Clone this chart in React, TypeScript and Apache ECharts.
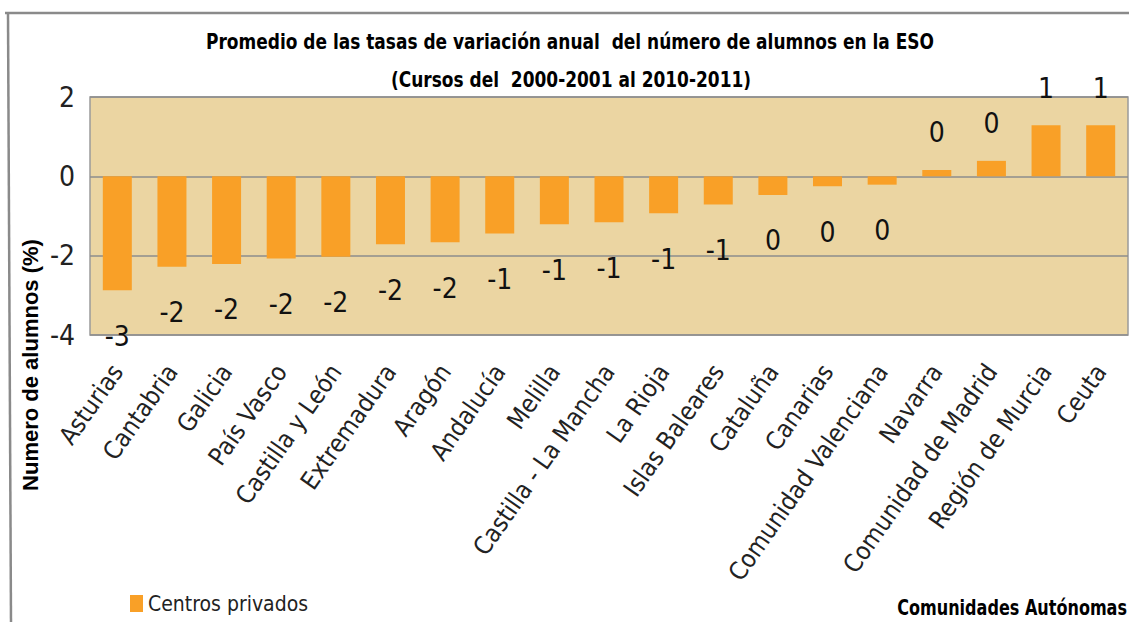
import React, { useEffect, useRef } from "react";
import * as echarts from "echarts";

const categories = [
  "Asturias",
  "Cantabria",
  "Galicia",
  "País Vasco",
  "Castilla y León",
  "Extremadura",
  "Aragón",
  "Andalucía",
  "Melilla",
  "Castilla - La Mancha",
  "La Rioja",
  "Islas Baleares",
  "Cataluña",
  "Canarias",
  "Comunidad Valenciana",
  "Navarra",
  "Comunidad de Madrid",
  "Región de Murcia",
  "Ceuta",
];
const centrosPrivados = [
  -2.87, -2.28, -2.21, -2.07, -2.03, -1.71, -1.66, -1.44, -1.21, -1.16, -0.93,
  -0.71, -0.47, -0.25, -0.21, 0.16, 0.39, 1.29, 1.29,
];
const seriesName = "Centros privados";
const titleLine1 = "Promedio de las tasas de variación anual  del número de alumnos en la ESO";
const titleLine2 = "(Cursos del  2000-2001 al 2010-2011)";
const yAxisTitle = "Numero de alumnos (%)";
const xAxisTitle = "Comunidades Autónomas";
const yMin = -4;
const yMax = 2;
const yStep = 2;

const NARROW = "'DejaVu Sans Condensed', 'Liberation Sans Narrow', sans-serif";
const WIDE = "'Liberation Sans', Arial, sans-serif";

export default function App() {
  const ref = useRef<HTMLDivElement>(null);
  useEffect(() => {
    if (!ref.current) return;
    const chart = echarts.init(ref.current, null, { renderer: "svg" });
    const option: any = {
      animation: false,
      backgroundColor: "#ffffff",
      legend: {
        left: 130,
        top: 593,
        icon: "rect",
        itemWidth: 13,
        itemHeight: 17,
        itemGap: 5,
        padding: 0,
        textStyle: { fontFamily: NARROW, fontSize: 21, color: "#222222" },
        data: [seriesName],
      },
      grid: {
        left: 90,
        top: 97,
        width: 1038,
        bottom: 287,
        show: true,
        backgroundColor: "#EBD5A2",
        borderColor: "#9a9a9a",
        borderWidth: 1.5,
        containLabel: false,
      },
      xAxis: {
        type: "category",
        data: categories,
        axisLine: { show: false, onZero: false },
        axisTick: { show: false },
        axisLabel: {
          interval: 0,
          rotate: 55,
          margin: 32,
          fontFamily: NARROW,
          fontSize: 25,
          color: "#222222",
        },
      },
      yAxis: {
        type: "value",
        min: yMin,
        max: yMax,
        interval: yStep,
        axisLine: { show: false },
        axisTick: { show: false },
        axisLabel: {
          margin: 15,
          fontFamily: NARROW,
          fontSize: 28,
          color: "#222222",
        },
        splitLine: { lineStyle: { color: "#8c8c8c", width: 1.5 } },
      },
      series: [
        {
          name: seriesName,
          type: "bar",
          barWidth: 29,
          itemStyle: { color: "#F9A027" },
          data: centrosPrivados.map((v) => ({
            value: v,
            label: { position: v < 0 ? "bottom" : "top", distance: v < 0 ? 32 : 23 },
          })),
          label: {
            show: true,
            fontFamily: NARROW,
            fontSize: 28,
            color: "#111111",
            formatter: (p: any) => String(Math.round(p.value) || 0),
          },
        },
      ],
      graphic: [
        {
          type: "line",
          shape: { x1: 5, y1: 13, x2: 1129, y2: 13 },
          style: { stroke: "#8a8a8a", lineWidth: 2.5 },
        },
        {
          type: "line",
          shape: { x1: 8, y1: 13, x2: 11, y2: 622 },
          style: { stroke: "#8a8a8a", lineWidth: 2.5 },
        },
        {
          type: "text",
          x: 570,
          y: 42,
          scaleX: 0.9,
          style: {
            text: titleLine1,
            fontFamily: NARROW,
            fontWeight: "bold",
            fontSize: 21,
            fill: "#000000",
            align: "center",
            verticalAlign: "middle",
          },
        },
        {
          type: "text",
          x: 571,
          y: 80,
          scaleX: 0.9,
          style: {
            text: titleLine2,
            fontFamily: NARROW,
            fontWeight: "bold",
            fontSize: 21,
            fill: "#000000",
            align: "center",
            verticalAlign: "middle",
          },
        },
        {
          type: "text",
          x: 30,
          y: 365,
          rotation: Math.PI / 2,
          style: {
            text: yAxisTitle,
            fontFamily: WIDE,
            fontWeight: "bold",
            fontSize: 22,
            fill: "#000000",
            align: "center",
            verticalAlign: "middle",
          },
        },
        {
          type: "text",
          x: 1127,
          y: 608,
          scaleX: 0.85,
          style: {
            text: xAxisTitle,
            fontFamily: NARROW,
            fontWeight: "bold",
            fontSize: 21,
            fill: "#000000",
            align: "right",
            verticalAlign: "middle",
          },
        },
      ],
    };
    chart.setOption(option);
    return () => chart.dispose();
  }, []);
  return (
    <div
      ref={ref}
      style={{ position: "fixed", left: 0, top: 0, width: 1129, height: 622 }}
    />
  );
}
